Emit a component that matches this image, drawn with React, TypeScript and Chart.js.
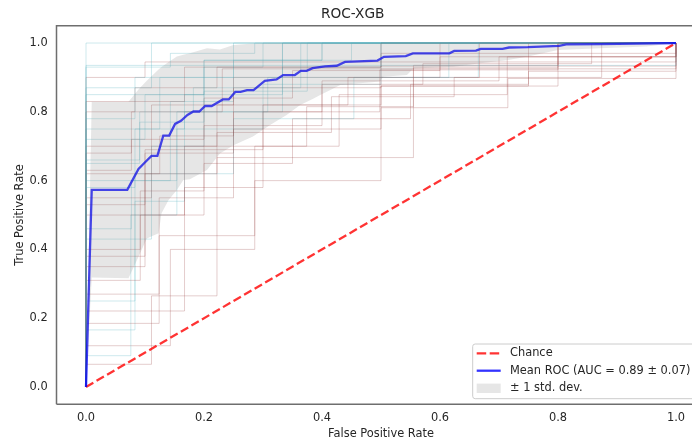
import React, { useEffect, useRef } from "react";
import { Chart, registerables } from "chart.js";
Chart.register(...registerables);

const TITLE = "ROC-XGB";
const X_LABEL = "False Positive Rate";
const Y_LABEL = "True Positive Rate";
const TICKS = [0, 0.2, 0.4, 0.6, 0.8, 1.0];
const LEGEND_LABELS = ["Chance", "Mean ROC (AUC = 0.89 \u00b1 0.07)", "\u00b1 1 std. dev."];

const chanceX = [0, 1];
const chanceY = [0, 1];

const meanX = [0, 0.0097, 0.07, 0.089, 0.101, 0.111, 0.121, 0.131, 0.141, 0.151, 0.161, 0.172, 0.182, 0.192, 0.202, 0.213, 0.232, 0.242, 0.253, 0.262, 0.273, 0.284, 0.303, 0.323, 0.334, 0.354, 0.364, 0.374, 0.384, 0.405, 0.425, 0.439, 0.494, 0.505, 0.542, 0.554, 0.616, 0.624, 0.661, 0.669, 0.706, 0.717, 0.749, 0.802, 0.814, 0.87, 0.997, 1];
const meanY = [0, 0.573, 0.573, 0.634, 0.655, 0.672, 0.672, 0.731, 0.731, 0.765, 0.774, 0.791, 0.801, 0.801, 0.817, 0.817, 0.836, 0.836, 0.858, 0.858, 0.863, 0.863, 0.89, 0.894, 0.907, 0.907, 0.919, 0.919, 0.927, 0.932, 0.934, 0.945, 0.949, 0.96, 0.962, 0.97, 0.97, 0.977, 0.978, 0.983, 0.983, 0.987, 0.988, 0.992, 0.996, 0.997, 1, 1];

const bandX = [0, 0.0097, 0.072, 0.089, 0.103, 0.123, 0.128, 0.14, 0.154, 0.165, 0.176, 0.205, 0.227, 0.25, 0.283, 0.312, 0.34, 0.363, 0.385, 0.397, 0.431, 0.498, 0.504, 0.544, 0.555, 0.623, 0.668, 0.713, 0.747, 0.8, 0.871, 0.95, 1];
const bandUpper = [0, 0.829, 0.829, 0.865, 0.89, 0.923, 0.93, 0.945, 0.961, 0.966, 0.97, 0.985, 0.981, 0.994, 0.999, 1, 1, 1, 1, 1, 1, 1, 1, 1, 1, 1, 1, 1, 1, 1, 1, 1, 1];
const bandLower = [0, 0.318, 0.316, 0.379, 0.432, 0.447, 0.505, 0.544, 0.573, 0.602, 0.604, 0.631, 0.679, 0.703, 0.728, 0.762, 0.791, 0.82, 0.838, 0.849, 0.878, 0.888, 0.902, 0.907, 0.926, 0.931, 0.941, 0.95, 0.96, 0.98, 0.985, 0.99, 1];

const foldFpr: number[][] = [
  [0, 1],
  [0, 1],
  [0, 0.111, 1],
  [0, 0.167, 0.5, 1],
  [0, 0.083, 0.25, 1],
  [0, 0.1, 0.2, 0.4, 1],
  [0, 0.077, 0.231, 1],
  [0, 0.091, 0.182, 0.364, 1],
  [0, 0.125, 0.25, 0.5, 1],
  [0, 0.083, 0.167, 0.333, 0.5, 1],
  [0, 0.111, 0.222, 0.444, 0.667, 1],
  [0, 0.1, 0.3, 0.5, 0.8, 1],
  [0, 0.077, 0.154, 0.308, 0.615, 1],
  [0, 0.092, 0.2, 0.4, 0.571, 0.857, 1],
  [0, 0.1, 0.222, 0.416, 0.624, 0.874, 1],
  [0, 0.092, 0.167, 0.374, 0.555, 0.8, 1],
  [0, 0.124, 0.25, 0.5, 0.75, 1],
  [0, 0.124, 0.286, 0.5, 0.715, 1],
  [0, 0.083, 0.25, 0.454, 0.665, 1],
  [0, 0.076, 0.154, 0.3, 0.5, 1],
  [0, 0.111, 0.222, 0.555, 0.8, 1],
  [0, 0.167, 0.3, 0.498, 0.8, 1],
  [0, 0.143, 0.286, 1],
  [0, 0.1, 1],
  [0, 0.2, 0.4, 1],
  [0, 0.083, 0.222, 0.5, 1],
  [0, 0.125, 0.333, 1],
  [0, 0.111, 0.25, 0.6, 1],
  [0, 0.091, 0.2, 0.3, 1],
  [0, 0.077, 0.2, 0.35, 0.6, 1],
  [0, 0.143, 0.25, 0.45, 1],
  [0, 0.1, 0.25, 0.4, 0.7, 1],
  [0, 0.111, 0.2, 0.375, 1],
  [0, 0.1, 0.2, 0.35, 0.55, 0.75, 1],
  [0, 0.083, 0.167, 0.333, 1],
  [0, 0.143, 0.286, 0.429, 0.714, 1],
];
const foldTpr: number[][] = [
  [1, 1],
  [0.935, 1],
  [0.87, 1, 1],
  [0.83, 0.93, 1, 1],
  [0.78, 0.9, 1, 1],
  [0.72, 0.85, 0.95, 1, 1],
  [0.68, 0.8, 0.925, 1],
  [0.66, 0.8, 0.87, 1, 1],
  [0.62, 0.73, 0.87, 0.933, 1],
  [0.58, 0.75, 0.85, 0.93, 1, 1],
  [0.55, 0.7, 0.82, 0.9, 1, 1],
  [0.5, 0.69, 0.82, 0.875, 1, 1],
  [0.46, 0.6, 0.8, 0.9, 1, 1],
  [0.4, 0.57, 0.76, 0.88, 0.94, 1, 1],
  [0.35, 0.62, 0.74, 0.844, 0.9, 1, 1],
  [0.31, 0.5, 0.7, 0.815, 0.928, 1, 1],
  [0.27, 0.55, 0.75, 0.875, 1, 1],
  [0.185, 0.44, 0.6, 0.812, 0.897, 1],
  [0.166, 0.62, 0.78, 0.9, 1, 1],
  [0.091, 0.5, 0.75, 0.88, 1, 1],
  [0.066, 0.265, 0.667, 0.935, 1, 1],
  [0.221, 0.58, 0.8, 0.922, 1, 1],
  [0.93, 0.97, 1, 1],
  [0.9, 0.945, 1],
  [0.85, 0.95, 1, 1],
  [0.8, 0.87, 0.93, 0.97, 1],
  [0.75, 0.9, 1, 1],
  [0.7, 0.82, 0.9, 0.96, 1],
  [0.65, 0.77, 0.93, 1, 1],
  [0.63, 0.72, 0.84, 0.92, 1, 1],
  [0.6, 0.83, 0.95, 1, 1],
  [0.53, 0.68, 0.8, 0.89, 0.96, 1],
  [0.43, 0.7, 0.86, 1, 1],
  [0.38, 0.5, 0.65, 0.78, 0.88, 0.918, 1],
  [0.25, 0.54, 0.8, 1, 1],
  [0.12, 0.4, 0.7, 0.85, 0.96, 1],
];
const foldKind = ["c", "c", "c", "r", "c", "c", "r", "c", "r", "c", "r", "r", "c", "r", "r", "r", "r", "r", "c", "c", "r", "r", "c", "r", "c", "r", "c", "r", "c", "r", "c", "r", "c", "r", "c", "r"];

const FONT = "'DejaVu Sans', sans-serif";
const TEXT = "#262626";
const CYAN = "rgba(80,175,190,0.28)";
const RED = "rgba(150,60,60,0.26)";
const BLUE = "rgba(0,0,255,0.8)";
const CHANCE = "rgba(255,0,0,0.8)";
const BAND = "rgba(128,128,128,0.2)";

function zip(xs: number[], ys: number[]) {
  return xs.map((x, i) => ({ x, y: ys[i] }));
}
function stepPoints(f: number[], t: number[]) {
  const pts = [{ x: 0, y: 0 }];
  let prev = 0;
  for (let i = 0; i < f.length; i++) {
    pts.push({ x: f[i], y: prev });
    pts.push({ x: f[i], y: t[i] });
    prev = t[i];
  }
  return pts;
}

const framePlugin = {
  id: "frame",
  afterDraw(chart: any) {
    const { ctx, chartArea: ca } = chart;
    ctx.save();
    ctx.strokeStyle = "#6e6e6e";
    ctx.lineWidth = 1.5;
    ctx.beginPath();
    ctx.moveTo(ca.left, ca.bottom);
    ctx.lineTo(ca.left, ca.top);
    ctx.lineTo(ca.right, ca.top);
    ctx.moveTo(ca.left, ca.bottom);
    ctx.lineTo(ca.right, ca.bottom);
    ctx.stroke();
    const left = ca.right - 232.8;
    const right = ca.right - 5.7;
    const top = ca.bottom - 60.2;
    const bottom = ca.bottom - 5.5;
    const r = 2.5;
    ctx.beginPath();
    ctx.moveTo(left + r, top);
    ctx.lineTo(right - r, top);
    ctx.arcTo(right, top, right, top + r, r);
    ctx.lineTo(right, bottom - r);
    ctx.arcTo(right, bottom, right - r, bottom, r);
    ctx.lineTo(left + r, bottom);
    ctx.arcTo(left, bottom, left, bottom - r, r);
    ctx.lineTo(left, top + r);
    ctx.arcTo(left, top, left + r, top, r);
    ctx.closePath();
    ctx.fillStyle = "rgba(255,255,255,0.8)";
    ctx.fill();
    ctx.strokeStyle = "#cccccc";
    ctx.lineWidth = 1;
    ctx.stroke();
    const rows = [top + 9.3, top + 26.7, top + 44.3];
    const hx0 = left + 4;
    const hx1 = left + 28;
    ctx.lineWidth = 2.3;
    ctx.strokeStyle = CHANCE;
    ctx.setLineDash([9.5, 3.5]);
    ctx.beginPath();
    ctx.moveTo(hx0, rows[0]);
    ctx.lineTo(hx1, rows[0]);
    ctx.stroke();
    ctx.setLineDash([]);
    ctx.strokeStyle = BLUE;
    ctx.beginPath();
    ctx.moveTo(hx0, rows[1]);
    ctx.lineTo(hx1, rows[1]);
    ctx.stroke();
    ctx.fillStyle = BAND;
    ctx.fillRect(hx0, rows[2] - 4.7, hx1 - hx0, 9.4);
    ctx.fillStyle = TEXT;
    ctx.font = `11.4px ${FONT}`;
    ctx.textBaseline = "middle";
    ctx.textAlign = "left";
    LEGEND_LABELS.forEach((s, i) => ctx.fillText(s, left + 37.3, rows[i]));
    ctx.restore();
  },
};

export default function App() {
  const ref = useRef<HTMLCanvasElement>(null);
  useEffect(() => {
    document.body.style.margin = "0";
    const datasets: any[] = [
      { data: zip(bandX, bandUpper), borderWidth: 0, borderColor: "rgba(0,0,0,0)", backgroundColor: BAND, fill: "+1", pointRadius: 0 },
      { data: zip(bandX, bandLower), borderWidth: 0, borderColor: "rgba(0,0,0,0)", fill: false, pointRadius: 0 },
      { data: zip(meanX, meanY), borderColor: BLUE, borderWidth: 2.3, fill: false, pointRadius: 0 },
      { data: zip(chanceX, chanceY), borderColor: CHANCE, borderWidth: 2.3, borderDash: [8.5, 3.7], fill: false, pointRadius: 0 },
    ];
    foldFpr.forEach((f, i) => {
      datasets.push({
        data: stepPoints(f, foldTpr[i]),
        borderColor: foldKind[i] === "c" ? CYAN : RED,
        borderWidth: 1,
        fill: false,
        pointRadius: 0,
      });
    });
    const chart = new Chart(ref.current!, {
      type: "line",
      data: { datasets },
      plugins: [framePlugin],
      options: {
        animation: false,
        responsive: false,
        devicePixelRatio: 1,
        layout: { padding: { left: 0, right: 56.5, top: 0, bottom: 0 } },
        elements: { line: { tension: 0 } },
        plugins: {
          legend: { display: false },
          tooltip: { enabled: false },
          title: {
            display: true,
            text: TITLE,
            color: TEXT,
            font: { family: FONT, size: 13.7, weight: "normal" },
            padding: { top: 6, bottom: 3.4 },
          },
        },
        scales: {
          x: {
            type: "linear",
            min: -0.05,
            max: 1.05,
            grid: { display: false, drawTicks: false },
            border: { display: false },
            afterBuildTicks: (s: any) => { s.ticks = TICKS.map((v) => ({ value: v })); },
            afterFit: (s: any) => { s.height = 37.8; },
            ticks: {
              color: TEXT,
              font: { family: FONT, size: 11.4 },
              padding: 7.5,
              maxRotation: 0,
              callback: (v: any) => Number(v).toFixed(1),
            },
            title: {
              display: true,
              text: X_LABEL,
              color: TEXT,
              font: { family: FONT, size: 11.4 },
              padding: { top: 0, bottom: 1.2 },
            },
          },
          y: {
            type: "linear",
            min: -0.05,
            max: 1.05,
            grid: { display: false, drawTicks: false },
            border: { display: false },
            afterBuildTicks: (s: any) => { s.ticks = TICKS.map((v) => ({ value: v })); },
            afterFit: (s: any) => { s.width = 56.5; },
            ticks: {
              color: TEXT,
              font: { family: FONT, size: 11.4 },
              padding: 8.8,
              callback: (v: any) => Number(v).toFixed(1),
            },
            title: {
              display: true,
              text: Y_LABEL,
              color: TEXT,
              font: { family: FONT, size: 11.4 },
              padding: { top: 13.2, bottom: 0 },
            },
          },
        },
      } as any,
    });
    return () => chart.destroy();
  }, []);
  return (
    <div style={{ position: "fixed", left: 0, top: 0, width: 692, height: 442, overflow: "hidden", background: "#fff" }}>
      <canvas ref={ref} width={762} height={442} style={{ display: "block" }} />
    </div>
  );
}
